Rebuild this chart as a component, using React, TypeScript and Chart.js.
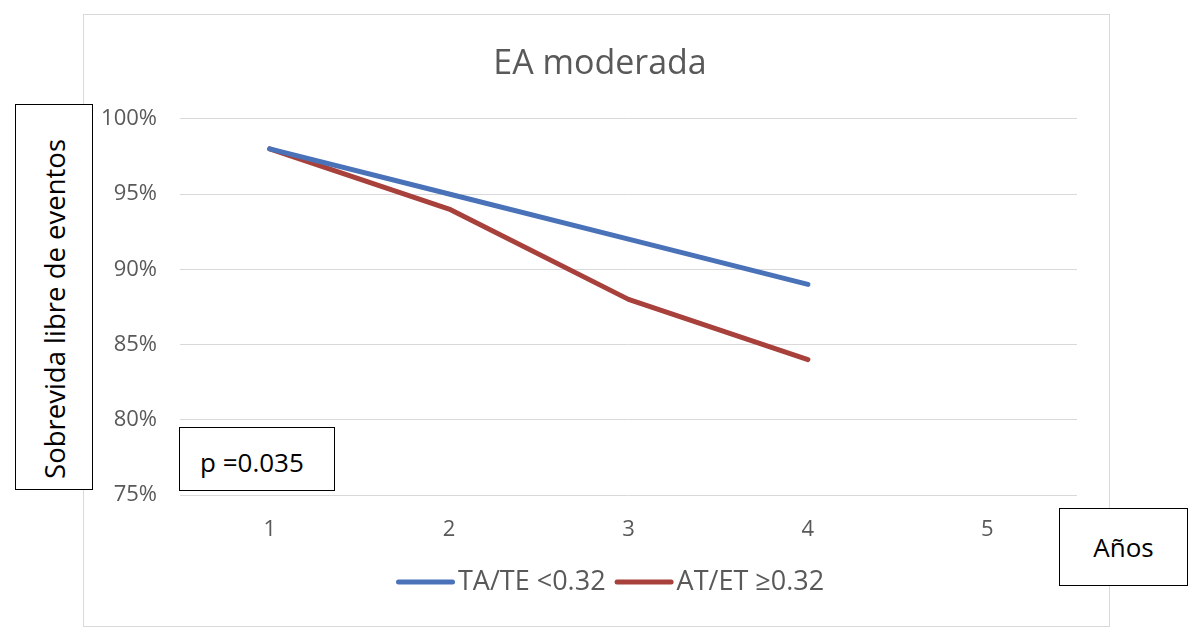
import React, { useEffect, useRef } from "react";
import { Chart, registerables } from "chart.js";

Chart.register(...registerables);

const title = "EA moderada";
const categories = ["1", "2", "3", "4", "5"];
const seriesBlueLabel = "TA/TE <0.32";
const seriesBlue = [98, 95, 92, 89, null];
const seriesRedLabel = "AT/ET \u22650.32";
const seriesRed = [98, 94, 88, 84, null];
const yMin = 75;
const yMax = 100;
const yStep = 5;
const yAxisTitle = "Sobrevida libre de eventos";
const xAxisTitle = "Años";
const pValueText = "p =0.035";

const FONT = "'Open Sans', 'Noto Sans', sans-serif";
const BLUE = "#4A72B8";
const RED = "#A8413C";
const GREY_TEXT = "#595959";

const lineLegendPlugin = {
  id: "lineLegend",
  afterDraw(chart: any) {
    const ctx = chart.ctx;
    const lineLen = 59;
    const gap = 3;
    const itemGap = 9;
    const fontSize = 27;
    ctx.save();
    ctx.font = `${fontSize}px ${FONT}`;
    const items = chart.data.datasets.map((ds: any) => ({
      text: ds.label,
      color: ds.borderColor,
      w: ctx.measureText(ds.label).width,
    }));
    const cy = 582;
    let x = chart.width / 2 - 204;
    items.forEach((it: any) => {
      ctx.strokeStyle = it.color;
      ctx.lineWidth = 5;
      ctx.lineCap = "round";
      ctx.beginPath();
      ctx.moveTo(x + 2.5, cy);
      ctx.lineTo(x + lineLen - 2.5, cy);
      ctx.stroke();
      x += lineLen + gap;
      ctx.fillStyle = GREY_TEXT;
      ctx.textBaseline = "middle";
      ctx.textAlign = "left";
      ctx.fillText(it.text, x, cy);
      x += it.w + itemGap;
    });
    ctx.restore();
  },
};

export default function App() {
  const ref = useRef<HTMLCanvasElement | null>(null);

  useEffect(() => {
    if (!ref.current) return;
    const chart = new Chart(ref.current, {
      type: "line",
      data: {
        labels: categories,
        datasets: [
          {
            label: seriesBlueLabel,
            data: seriesBlue,
            borderColor: BLUE,
            backgroundColor: BLUE,
            borderWidth: 5,
            pointRadius: 0,
            tension: 0,
            borderCapStyle: "round",
            borderJoinStyle: "round",
          },
          {
            label: seriesRedLabel,
            data: seriesRed,
            borderColor: RED,
            backgroundColor: RED,
            borderWidth: 5,
            pointRadius: 0,
            tension: 0,
            borderCapStyle: "round",
            borderJoinStyle: "round",
          },
        ],
      },
      plugins: [lineLegendPlugin],
      options: {
        responsive: false,
        animation: false,
        layout: { padding: { left: 0, right: 0, top: 0, bottom: 80 } },
        plugins: {
          tooltip: { enabled: false },
          title: {
            display: true,
            text: title,
            color: GREY_TEXT,
            font: { family: FONT, size: 34, weight: "normal" },
            padding: { top: 44, bottom: 34 },
          },
          legend: { display: false },
        },
        scales: {
          x: {
            offset: true,
            grid: { display: false, drawTicks: false },
            border: { display: false },
            ticks: {
              color: GREY_TEXT,
              font: { family: FONT, size: 22 },
              padding: 22,
            },
            afterFit: (s: any) => {
              s.height = 64;
            },
          },
          y: {
            min: yMin,
            max: yMax,
            grid: { color: "#d9d9d9", lineWidth: 1, drawTicks: false },
            border: { display: false },
            ticks: {
              stepSize: yStep,
              color: GREY_TEXT,
              font: { family: FONT, size: 22 },
              padding: 23,
              callback: (v: any) => v + "%",
            },
            afterFit: (s: any) => {
              s.width = 180;
            },
          },
          yRight: {
            position: "right",
            display: true,
            min: yMin,
            max: yMax,
            grid: { display: false, drawTicks: false },
            border: { display: false },
            ticks: { display: false },
            afterFit: (s: any) => {
              s.width = 123;
            },
          },
        },
      },
    });
    return () => chart.destroy();
  }, []);

  const boxBase: React.CSSProperties = {
    position: "absolute",
    background: "#fff",
    border: "1px solid #000",
    boxSizing: "border-box",
    display: "flex",
    alignItems: "center",
    justifyContent: "center",
    fontFamily: FONT,
    color: "#000",
  };

  return (
    <div
      style={{
        position: "fixed",
        left: 0,
        top: 0,
        width: 1200,
        height: 639,
        background: "#fff",
        overflow: "hidden",
      }}
    >
      <div
        style={{
          position: "absolute",
          left: 83,
          top: 14,
          width: 1027,
          height: 613,
          border: "1px solid #d9d9d9",
          boxSizing: "border-box",
        }}
      />
      <canvas
        ref={ref}
        width={1200}
        height={639}
        style={{ position: "absolute", left: 0, top: 0 }}
      />
      <div
        style={{
          ...boxBase,
          left: 15,
          top: 104,
          width: 78,
          height: 386,
          paddingTop: 24,
        }}
      >
        <span
          style={{
            writingMode: "vertical-rl",
            transform: "rotate(180deg)",
            fontSize: 27.5,
            whiteSpace: "nowrap",
          }}
        >
          {yAxisTitle}
        </span>
      </div>
      <div
        style={{
          ...boxBase,
          left: 179,
          top: 427,
          width: 156,
          height: 64,
          justifyContent: "flex-start",
          paddingLeft: 20,
          paddingTop: 6,
          fontSize: 26,
        }}
      >
        {pValueText}
      </div>
      <div style={{ ...boxBase, left: 1059, top: 508, width: 129, height: 78, fontSize: 26 }}>
        {xAxisTitle}
      </div>
    </div>
  );
}
